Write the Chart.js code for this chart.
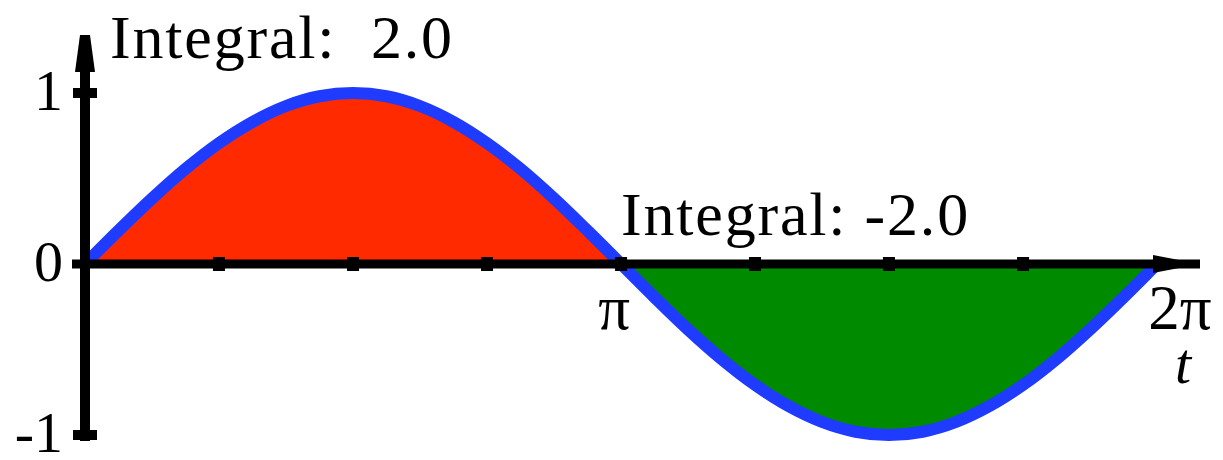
<!DOCTYPE html>
<html>
<head>
<meta charset="utf-8">
<script src="https://cdn.jsdelivr.net/npm/chart.js@4/dist/chart.umd.min.js"></script>
<style>
  body { margin: 0; background: #fff; }
  #wrap { width: 1223px; height: 460px; }
</style>
</head>
<body>
<div id="wrap"><canvas id="sineChart"></canvas></div>
<script>
// t values (steps of pi/16) and sin(t)
const tValues = [0, 0.196, 0.393, 0.589, 0.785, 0.982, 1.178, 1.374, 1.571, 1.767, 1.963, 2.160, 2.356, 2.553, 2.749, 2.945, 3.142,
                 3.338, 3.534, 3.731, 3.927, 4.123, 4.320, 4.516, 4.712, 4.909, 5.105, 5.301, 5.498, 5.694, 5.890, 6.087, 6.283];
const sinValues = [0, 0.195, 0.383, 0.556, 0.707, 0.831, 0.924, 0.981, 1, 0.981, 0.924, 0.831, 0.707, 0.556, 0.383, 0.195, 0,
                   -0.195, -0.383, -0.556, -0.707, -0.831, -0.924, -0.981, -1, -0.981, -0.924, -0.831, -0.707, -0.556, -0.383, -0.195, 0];

// axis decorations
const xTickMarks = [0.785, 1.571, 2.356, 3.142, 3.927, 4.712, 5.498];
const xTickLabels = [{ t: 3.142, text: 'π' }, { t: 6.283, text: '2π' }];
const yTickValues = [1, 0, -1];
const yTickLabels = ['1', '0', '-1'];
const integralLabels = [
    { t: 0.147, y: 1.205, text: 'Integral:  2.0' },
    { t: 3.142, y: 0.17, text: 'Integral: -2.0' }
];

const serif = '"Liberation Serif", "Times New Roman", serif';

const axesPlugin = {
    id: 'axesPlugin',
    afterDatasetsDraw(chart) {
        const ctx = chart.ctx;
        const xs = chart.scales.x;
        const ys = chart.scales.y;
        const x0 = xs.getPixelForValue(0);
        const y0 = ys.getPixelForValue(0);
        const yTop = ys.getPixelForValue(1);
        const yBot = ys.getPixelForValue(-1);
        const xEnd = xs.getPixelForValue(6.283);

        ctx.save();
        ctx.fillStyle = '#000';

        // x axis with arrow
        ctx.fillRect(x0 - 13, y0 - 4.5, xEnd + 43 - (x0 - 13), 9);
        ctx.beginPath();
        ctx.moveTo(xEnd + 22, y0 - 4);
        ctx.lineTo(xEnd + 22, y0 + 4);
        ctx.lineTo(xEnd - 4, y0 + 9);
        ctx.lineTo(xEnd - 4, y0 - 9);
        ctx.closePath();
        ctx.fill();

        // y axis with arrow
        ctx.fillRect(x0 - 5, yTop - 58, 10, yBot + 6 - (yTop - 58));
        ctx.beginPath();
        ctx.moveTo(x0 - 5, yTop - 58);
        ctx.lineTo(x0 + 5, yTop - 58);
        ctx.lineTo(x0 + 10, yTop - 21);
        ctx.lineTo(x0 - 10, yTop - 21);
        ctx.closePath();
        ctx.fill();

        // y tick bars
        [1, -1].forEach(v => {
            const py = ys.getPixelForValue(v);
            ctx.fillRect(x0 - 12, py - 5, 24, 10);
        });

        // x tick marks
        xTickMarks.forEach(t => {
            const px = xs.getPixelForValue(t);
            ctx.fillRect(px - 6, y0 - 7, 12, 14);
        });

        // labels
        ctx.font = '58px ' + serif;
        ctx.textAlign = 'right';
        ctx.textBaseline = 'middle';
        yTickValues.forEach((v, i) => {
            ctx.fillText(yTickLabels[i], x0 - 22, ys.getPixelForValue(v) + 2);
        });

        ctx.font = '63px ' + serif;
        ctx.textAlign = 'center';
        xTickLabels.forEach(l => {
            ctx.fillText(l.text, xs.getPixelForValue(l.t) + (l.text === '2π' ? 23 : -7), y0 + 48);
        });

        ctx.font = 'italic 58px ' + serif;
        ctx.fillText('t', xEnd + 26, y0 + 104);

        ctx.font = '62px ' + serif;
        ctx.letterSpacing = '1.8px';
        ctx.textAlign = 'left';
        ctx.textBaseline = 'alphabetic';
        integralLabels.forEach(l => {
            ctx.fillText(l.text, xs.getPixelForValue(l.t), ys.getPixelForValue(l.y));
        });
        ctx.restore();
    }
};

new Chart(document.getElementById('sineChart').getContext('2d'), {
    type: 'line',
    data: {
        labels: tValues,
        datasets: [{
            data: tValues.map((t, i) => ({ x: t, y: sinValues[i] })),
            borderColor: '#1f3bff',
            borderWidth: 12,
            pointRadius: 0,
            cubicInterpolationMode: 'monotone',
            clip: false,
            fill: {
                target: 'origin',
                above: '#ff2a00',
                below: '#008a00'
            }
        }]
    },
    options: {
        responsive: true,
        maintainAspectRatio: false,
        animation: false,
        layout: {
            padding: { left: 85, right: 66, top: 93, bottom: 25 }
        },
        plugins: {
            legend: { display: false },
            tooltip: { enabled: false }
        },
        scales: {
            x: { type: 'linear', min: 0, max: 6.283, display: false },
            y: { min: -1, max: 1, display: false }
        }
    },
    plugins: [axesPlugin]
});
</script>
</body>
</html>
